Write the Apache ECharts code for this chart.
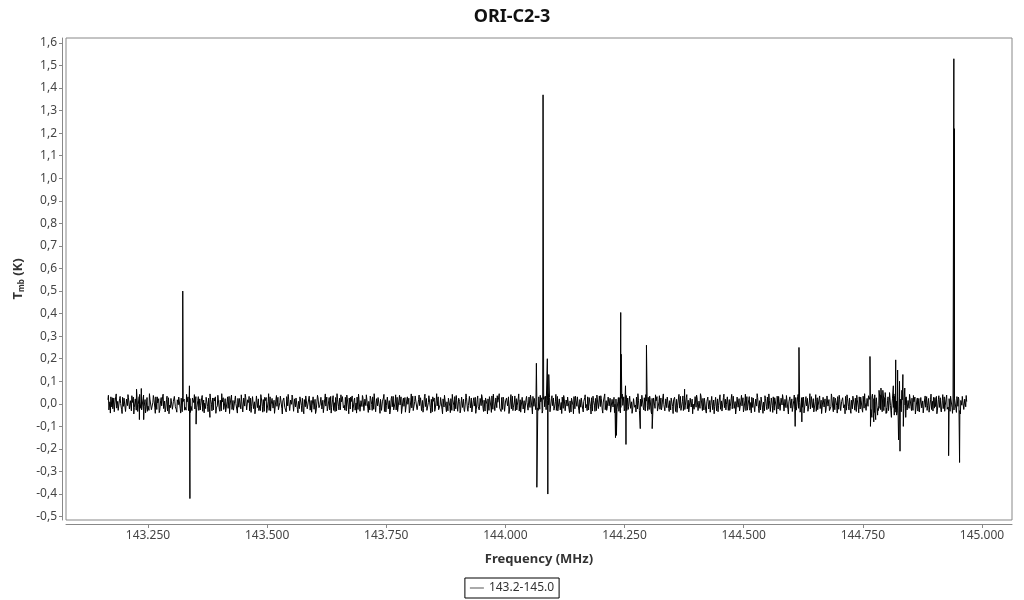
<!DOCTYPE html>
<html><head><meta charset="utf-8">
<script src="https://cdn.jsdelivr.net/npm/echarts@6/dist/echarts.min.js"></script>
<style>html,body{margin:0;padding:0;background:#fff}#c{width:1024px;height:600px}</style>
</head><body><div id="c"></div>
<script>
const title = 'ORI-C2-3';
const seriesName = '143.2-145.0';
const xTicks = [143.25, 143.5, 143.75, 144.0, 144.25, 144.5, 144.75, 145.0];
const yTicks = [-0.5,-0.4,-0.3,-0.2,-0.1,0,0.1,0.2,0.3,0.4,0.5,0.6,0.7,0.8,0.9,1.0,1.1,1.2,1.3,1.4,1.5,1.6];
// first pass of the baseline (mK)
const freqStartA = 143.166;
const freqStepA = 0.00205;
const noiseA_mK = [
18,-27,9,31,-14,-22,26,-5,33,-19,11,-30,24,2,-26,29,-11,17,-34,21,
-8,27,-23,14,-31,6,30,-16,22,-28,13,-3,32,-20,9,-35,25,-12,19,-24,
28,-10,-29,21,15,-33,7,26,-18,31,-25,4,23,-30,16,-9,34,-21,12,-27,
20,-32,27,-6,-17,30,-24,11,33,-13,-26,18,-4,29,-22,25,-35,10,21,-15,
-28,8,31,-19,24,-11,-30,27,5,-23,32,-16,14,-29,22,-7,28,-33,17,3,
-21,30,-12,25,-34,19,-2,26,-27,13,31,-18,-9,34,-24,16,-31,8,27,-14,
23,-29,11,-20,33,-6,28,-25,15,-32,20,1,-28,24,-15,30,-22,12,-36,26,
-10,29,-27,18,6,-31,25,-13,32,-21,9,-26,35,-17,22,-8,-30,27,-12,19,
-33,14,28,-23,10,-29,31,-4,24,-19,16,-35,21,-11,29,-26,7,33,-20,13,
26,-16,-24,32,-9,20,-30,17,-2,28,-33,22,-14,30,-25,11,-21,34,-7,25,
-31,19,-13,27,-22,8,34,-28,15,-6,31,-24,20,-34,12,27,-17,-5,29,-23,
16,-36,24,-10,30,-20,13,-27,33,-15,21,-29,5,28,-32,18,-11,25,-26,9,
32,-18,-7,29,-31,22,-14,26,-23,10,35,-21,16,-28,4,30,-25,19,-33,14,
-12,28,-30,21,-8,33,-19,11,-27,25,-3,31,-24,17,-35,23,-9,27,-16,20,
-29,12,26,-34,18,-6,30,-22,14,-31,24,-13,33,-20,8,-27,29,-15,22,-5,
31,-25,17,-11,28,-33,21,-2,25,-29,13,-18,34,-23,10,32,-14,-26,19,-8,
27,-30,15,-21,33,-12,24,-28,6,30,-17,20,-35,11,26,-24,16,-9,31,-19,
-4,29,-26,22,-14,34,-20,9,-31,27,-11,23,-29,18,-6,32,-22,14,-33,25,
10,-28,30,-16,21,-34,12,28,-23,-7,33,-18,26,-30,15,-10,29,-25,20,-13,
-27,24,-8,31,-21,16,-32,27,-3,22,-29,19,-14,35,-24,11,-30,26,-17,7,
30,-19,-12,28,-25,20,-33,13,26,-9,31,-27,17,-22,34,-15,8,-31,23,-6,
25,-32,18,-10,29,-23,14,-35,22,5,-28,30,-16,24,-20,33,-11,19,-26,12,
-18,31,-24,9,27,-30,20,-13,34,-21,15,-4,28,-33,23,-8,26,-19,11,-29,
33,-14,22,-27,6,30,-20,25,-31,17,-10,29,-24,13,-36,21,-7,32,-22,16,
-11,26,-29,19,-15,33,-25,10,28,-18,-3,31,-27,22,-13,27,-32,15,-6,24,
-30,17,-21,35,-12,23,-28,8,32,-26,14,-19,30,-9,25,-34,20,-14,29,-2,
21,-26,11,-33,28,-16,24,-7,31,-22,18,-30,26,-12,34,-20,9,-27,23,-15,
-5,30,-23,16,-29,21,-11,33,-18,27,-32,12,-8,29,-25,19,-35,24,-10,28,
-20,13,32,-28,9,-24,26,-15,30,-3,-31,22,-17,34,-21,14,-27,31,-12,18,
29,-34,20,-9,26,-19,33,-25,11,-30,23,-6,28,-22,16,-33,25,-14,21,-1,
-24,32,-15,27,-30,12,-20,35,-11,24,-27,18,-32,9,30,-23,15,-8,33,-26,
17,-12,29,-31,22,-7,26,-24,13,-34,28,-17,21,-4,31,-29,19,-13,25,-22,
34,-20,10,-26,30,-15,23,-33,17,-9,27,-25,14,-30,32,-11,20,-28,6,29,
-16,25,-35,21,-10,28,-22,14,-27,33,-18,8,-31,24,-13,30,-21,16,-34,26,
-7,31,-28,19,-14,34,-23,12,-29,25,-5,27,-32,20,-17,29,-26,9,31,-19,
22,-30,15,-24,28,-12,33,-20,7,-28,26,-15,30,-34,18,-9,24,-31,13,-23,
32,-17,23,-29,11,-33,27,-6,25,-21,16,-36,29,-14,22,-27,35,-10,19,-25,
-13,28,-19,30,-26,15,-8,32,-24,20,-30,11,27,-18,-4,33,-28,23,-12,26,
-31,16,-22,29,-9,25,-34,18,-15,31,-23,13,-27,34,-19,7,-29,24,-11,30,
19,-25,31,-14,23,-32,10,28,-21,-6,30,-26,17,-33,25,-12,29,-20,14,-30,
27,-8,-28,22,-16,33,-24,12,-31,26,-11,21,-35,18,-22,28,-5,31,-27,15,
-20,34,-13,25,-29,9,30,-23,17,-32,24,-10,28,-18,13,-34,22,-15,32,-7,
24,-31,18,-25,11,29,-19,-12,33,-28,20,-16,27,-36,14,-21,31,-9,26,-24,
-14,23,-33,30,-17,8,-27,25,-22,32,-11,19,-30,15,-6,28,-25,21,-13,10
];
// second pass of the baseline (mK)
const freqStartB = 143.167;
const freqStepB = 0.0041;
const noiseB_mK = [
38,-41,27,-35,44,-29,33,-43,25,-38,41,-31,36,-45,29,-34,42,-27,39,-40,
-33,45,-26,37,-42,31,-39,28,43,-36,34,-44,24,-32,40,-37,30,-41,35,-28,
42,-30,-38,26,41,-45,32,-27,37,-40,29,-35,44,-31,26,-42,38,-33,45,-25,
-36,31,-43,39,-28,35,-41,24,40,-34,43,-29,33,-38,27,-44,36,-30,41,-37,
29,-39,45,-32,25,-42,37,-26,34,-45,30,-36,42,-28,39,-33,26,-40,31,-35,
-44,35,-30,41,-37,27,-43,38,-25,32,-39,44,-31,28,-41,36,-34,45,-27,40,
33,-28,39,-44,30,-35,26,-41,43,-32,37,-25,40,-38,34,-29,45,-36,28,-42,
-31,42,-36,29,-45,33,-27,40,-34,38,-43,26,-37,31,-40,44,-30,35,-26,39,
27,-37,43,-29,36,-41,31,-33,45,-26,28,-44,38,-35,25,-39,42,-32,37,-28,
-40,30,-25,44,-33,39,-36,27,-42,35,-29,41,-34,26,-45,32,-38,43,-31,36,
45,-34,30,-38,27,-43,41,-30,35,-27,44,-37,29,-40,33,-26,39,-45,24,-33,
-29,38,-41,32,-26,45,-35,36,-28,42,-31,27,-43,37,-34,30,-39,25,-44,34,
31,-43,26,-36,40,-30,28,-45,34,-33,39,-27,36,-41,44,-29,32,-37,27,-39,
-35,28,-40,43,-31,37,-25,33,-42,29,-36,45,-32,38,-27,41,-30,34,-45,26,
40,-32,36,-27,44,-39,30,-34,26,-43,33,-38,42,-29,35,-25,41,-36,30,-44,
-26,39,-33,45,-30,25,-41,35,-37,31,-44,28,-35,40,-32,43,-27,37,-29,42,
34,-45,29,-31,38,-36,43,-28,32,-40,26,-33,45,-39,30,-42,36,-26,44,-34,
-38,27,-44,33,-29,41,-32,37,-45,25,-34,39,-28,42,-37,29,-40,32,-33,45,
30,-36,41,-26,35,-43,27,-39,31,-30,44,-35,25,-41,38,-31,33,-44,40,-27,
-42,34,-28,38,-40,30,-37,45,-26,36,-32,43,-38,27,-30,40,-35,28,-43,31,
26,-31,44,-37,32,-27,39,-41,28,-34,42,-30,37,-45,26,-36,31,-40,35,-29,
-37,43,-32,28,-44,36,-26,41,-33,39,-28,34,-42,25,-38,30,-45,33,-29,37
];
// line features (K)
const lineFreq = [143.226,143.232,143.236,143.241,143.323,143.337,143.338,143.351,143.380,
144.065,144.066,144.079,144.088,144.089,144.091,144.231,144.233,144.242,144.243,144.252,144.253,
144.283,144.296,144.308,144.376,144.608,144.616,144.622,
144.765,144.766,144.769,144.771,144.773,144.775,144.777,144.779,144.781,144.784,144.786,144.788,
144.790,144.792,144.794,144.797,144.800,144.806,144.810,144.814,144.816,
144.819,144.821,144.823,144.825,144.827,144.828,144.832,144.834,144.835,144.838,144.840,
144.930,144.941,144.942,144.953];
const lineTmb = [0.065,-0.07,0.068,-0.07,0.50,0.08,-0.42,-0.09,-0.06,
0.18,-0.37,1.37,0.20,-0.40,0.13,-0.15,-0.14,0.405,0.22,0.08,-0.18,
-0.11,0.26,-0.11,0.065,-0.10,0.25,-0.08,
0.21,-0.10,-0.06,0.02,-0.08,0.04,-0.07,0.03,-0.05,0.06,-0.02,0.07,
0.01,0.06,-0.03,0.05,-0.04,0.05,-0.06,0.08,-0.05,
0.195,-0.05,0.15,-0.16,0.10,-0.21,0.06,0.13,-0.10,0.07,-0.06,
-0.23,1.53,1.22,-0.26];

const pts = [];
noiseA_mK.forEach((v, i) => pts.push([freqStartA + i * freqStepA, v / 1000]));
noiseB_mK.forEach((v, i) => pts.push([freqStartB + i * freqStepB, v / 1000]));
lineFreq.forEach((f, i) => pts.push([f, lineTmb[i]]));
pts.sort((a, b) => a[0] - b[0]);

const font = 'Noto Sans';
const chart = echarts.init(document.getElementById('c'));
chart.setOption({
  animation: false,
  textStyle: { fontFamily: font },
  title: { text: title, left: 'center', top: 3, textStyle: { fontFamily: font, fontSize: 18, fontWeight: 'bold', color: '#111' } },
  grid: { left: 66, right: 12, top: 38, bottom: 80, show: true, borderColor: '#888', borderWidth: 1, backgroundColor: '#fff' },
  legend: {
    bottom: 2, left: 'center', data: [{ name: seriesName, icon: 'rect' }],
    borderColor: '#000', borderWidth: 1, borderRadius: 0, padding: [4, 5],
    itemWidth: 14, itemHeight: 1, itemGap: 4,
    itemStyle: { color: '#555' },
    textStyle: { fontFamily: font, fontSize: 12, color: '#333' }
  },
  xAxis: {
    type: 'value', min: 143.078, max: 145.063, offset: 4,
    name: 'Frequency (MHz)', nameLocation: 'middle', nameGap: 29,
    nameTextStyle: { fontFamily: font, fontSize: 13, fontWeight: 'bold', color: '#333' },
    axisLine: { show: true, onZero: false, lineStyle: { color: '#888' } },
    axisTick: { show: true, length: 4, customValues: xTicks, lineStyle: { color: '#888' } },
    axisLabel: { customValues: xTicks, color: '#444', fontSize: 12, margin: 6, formatter: v => v.toFixed(3) },
    splitLine: { show: false }
  },
  yAxis: {
    type: 'value', min: -0.515, max: 1.622, offset: 4,
    name: '{b|T}{s|mb}{b| (K)}', nameLocation: 'middle', nameGap: 34, nameRotate: 90,
    nameTextStyle: { rich: {
      b: { fontFamily: font, fontSize: 13, fontWeight: 'bold', color: '#333' },
      s: { fontFamily: font, fontSize: 8, fontWeight: 'bold', color: '#333', padding: [6, 0, 0, 0] }
    } },
    axisLine: { show: true, onZero: false, lineStyle: { color: '#888' } },
    axisTick: { show: true, length: 3, customValues: yTicks, lineStyle: { color: '#888' } },
    axisLabel: { customValues: yTicks, color: '#444', fontSize: 12, margin: 5, formatter: v => v.toFixed(1).replace('.', ',') },
    splitLine: { show: false }
  },
  series: [{
    name: seriesName, type: 'line', data: pts, showSymbol: false, symbol: 'none', sampling: null,
    lineStyle: { color: '#000', width: 1 }, itemStyle: { color: '#000' }
  }]
});
</script></body></html>
